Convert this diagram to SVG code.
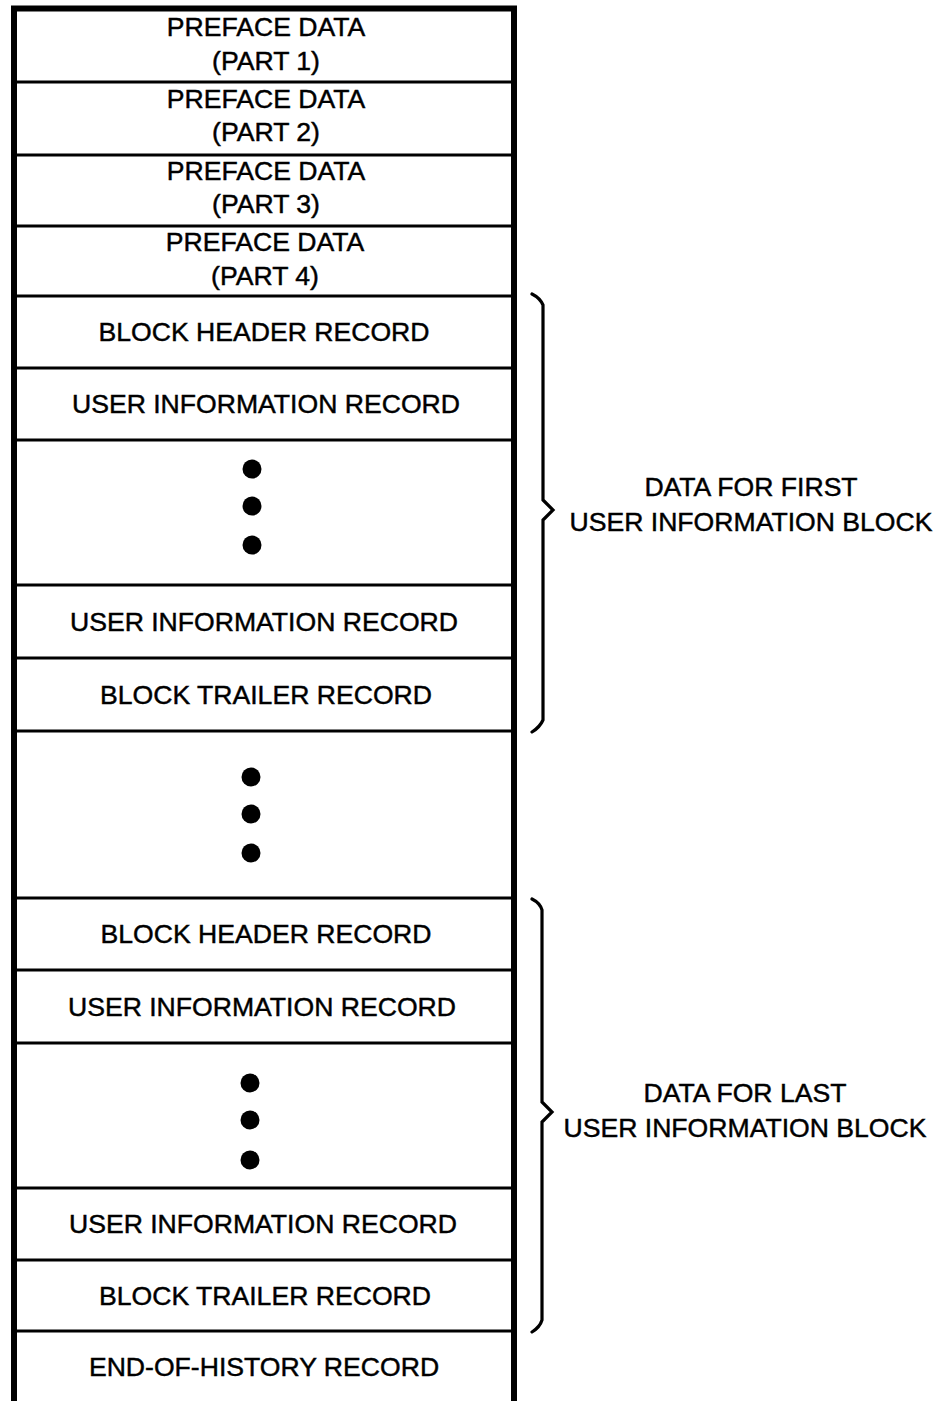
<svg xmlns="http://www.w3.org/2000/svg" width="942" height="1401" viewBox="0 0 942 1401">
<style>
  text { font-family: "Liberation Sans", Arial, Helvetica, sans-serif; font-size: 26.6px; fill: #000; stroke: #000; stroke-width: 0.45px; }
  .c { text-anchor: middle; }
  .div { stroke: #000; stroke-width: 3; fill: none; }
  .frame { stroke: #000; stroke-width: 6; fill: none; }
  .brace { stroke: #000; stroke-width: 3.2; fill: none; stroke-linejoin: miter; stroke-linecap: round; }
  .dot { fill: #000; }
</style>
<rect x="0" y="0" width="942" height="1401" fill="#fff"/>
<g id="frame">
  <path class="frame" d="M14,1402 L14,8.5 L514,8.5 L514,1402"/>
</g>
<g id="dividers">
  <line class="div" x1="14" y1="82" x2="514" y2="82"/>
  <line class="div" x1="14" y1="155" x2="514" y2="155"/>
  <line class="div" x1="14" y1="226" x2="514" y2="226"/>
  <line class="div" x1="14" y1="296" x2="514" y2="296"/>
  <line class="div" x1="14" y1="368" x2="514" y2="368"/>
  <line class="div" x1="14" y1="440" x2="514" y2="440"/>
  <line class="div" x1="14" y1="585" x2="514" y2="585"/>
  <line class="div" x1="14" y1="658" x2="514" y2="658"/>
  <line class="div" x1="14" y1="731" x2="514" y2="731"/>
  <line class="div" x1="14" y1="898" x2="514" y2="898"/>
  <line class="div" x1="14" y1="970" x2="514" y2="970"/>
  <line class="div" x1="14" y1="1043" x2="514" y2="1043"/>
  <line class="div" x1="14" y1="1188" x2="514" y2="1188"/>
  <line class="div" x1="14" y1="1260" x2="514" y2="1260"/>
  <line class="div" x1="14" y1="1331" x2="514" y2="1331"/>
</g>
<g id="preface1"><text class="c" x="266" y="36">PREFACE DATA</text><text class="c" x="266" y="70">(PART 1)</text></g>
<g id="preface2"><text class="c" x="266" y="108">PREFACE DATA</text><text class="c" x="266" y="141">(PART 2)</text></g>
<g id="preface3"><text class="c" x="266" y="180">PREFACE DATA</text><text class="c" x="266" y="213">(PART 3)</text></g>
<g id="preface4"><text class="c" x="265" y="251">PREFACE DATA</text><text class="c" x="265" y="285">(PART 4)</text></g>
<g id="bh1"><text class="c" x="264" y="341">BLOCK HEADER RECORD</text></g>
<g id="ui1a"><text class="c" x="266" y="413">USER INFORMATION RECORD</text></g>
<g id="dots1"><circle class="dot" cx="252" cy="469" r="9.5"/><circle class="dot" cx="252" cy="506" r="9.5"/><circle class="dot" cx="252" cy="545" r="9.5"/></g>
<g id="ui1b"><text class="c" x="264" y="631">USER INFORMATION RECORD</text></g>
<g id="bt1"><text class="c" x="266" y="704">BLOCK TRAILER RECORD</text></g>
<g id="dots2"><circle class="dot" cx="251" cy="777" r="9.5"/><circle class="dot" cx="251" cy="814" r="9.5"/><circle class="dot" cx="251" cy="853" r="9.5"/></g>
<g id="bh2"><text class="c" x="266" y="943">BLOCK HEADER RECORD</text></g>
<g id="ui2a"><text class="c" x="262" y="1016">USER INFORMATION RECORD</text></g>
<g id="dots3"><circle class="dot" cx="250" cy="1083" r="9.5"/><circle class="dot" cx="250" cy="1120" r="9.5"/><circle class="dot" cx="250" cy="1160" r="9.5"/></g>
<g id="ui2b"><text class="c" x="263" y="1233">USER INFORMATION RECORD</text></g>
<g id="bt2"><text class="c" x="265" y="1305">BLOCK TRAILER RECORD</text></g>
<g id="eoh"><text class="c" x="264" y="1376">END-OF-HISTORY RECORD</text></g>
<g id="connectors">
  <path class="brace" d="M532,294 Q540,298 543,305 L543,500 L553,510 L543,520 L543,720 Q540,727 532,732"/>
  <path class="brace" d="M532,899 Q540,903 542,910 L542,1102 L552,1112 L542,1122 L542,1320 Q540,1327 532,1332"/>
</g>
<g id="label1"><text class="c" x="751" y="496">DATA FOR FIRST</text><text class="c" x="751" y="531">USER INFORMATION BLOCK</text></g>
<g id="label2"><text class="c" x="745" y="1102">DATA FOR LAST</text><text class="c" x="745" y="1137">USER INFORMATION BLOCK</text></g>
</svg>
